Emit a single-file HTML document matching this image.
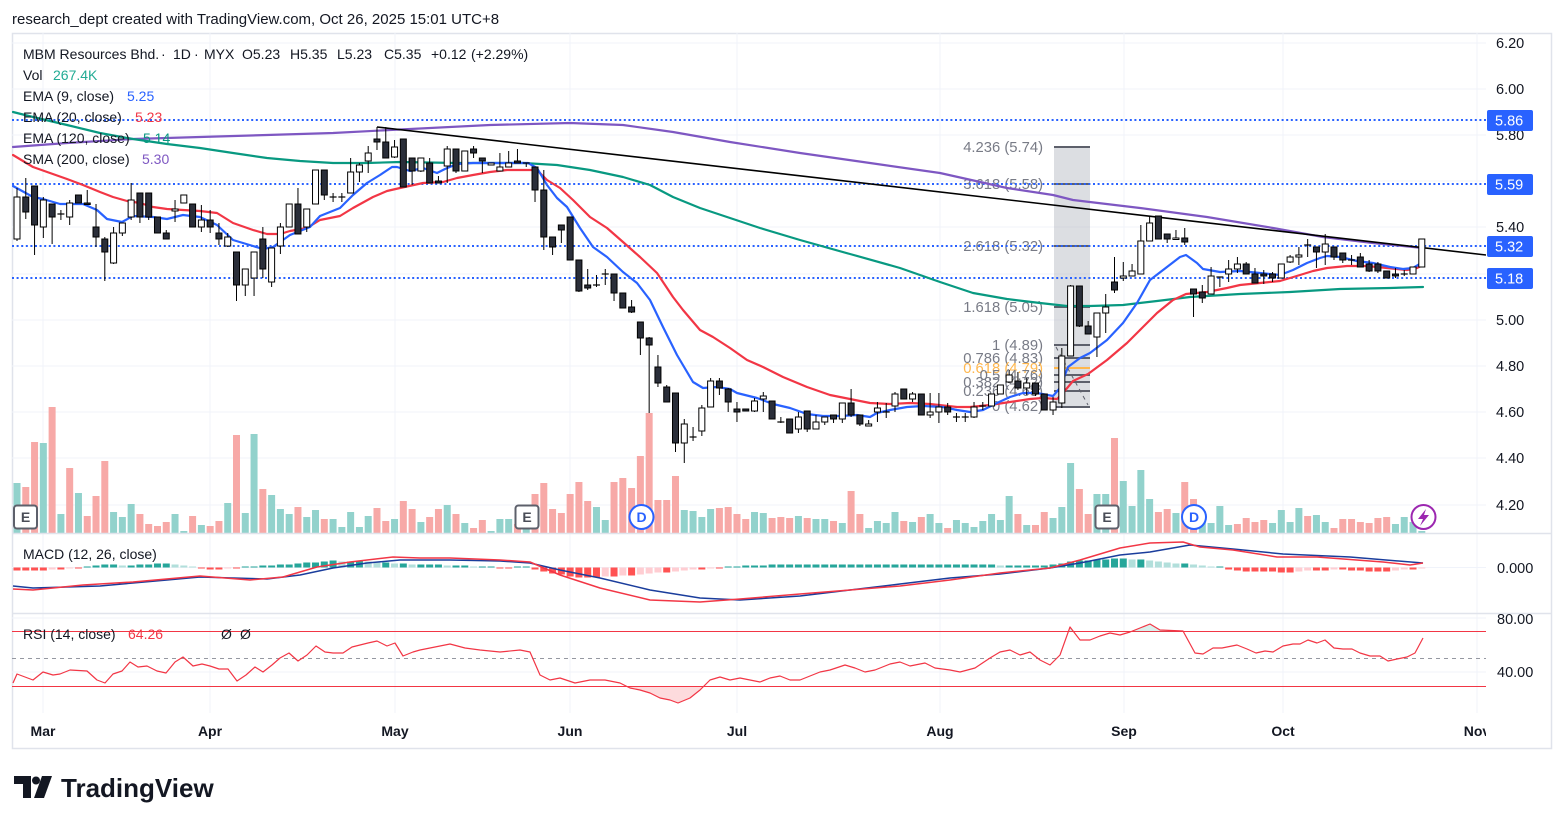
<!DOCTYPE html>
<html><head><meta charset="utf-8"><title>MBM Resources Bhd. chart</title><style>
html,body{margin:0;padding:0;background:#fff;width:1564px;height:824px;overflow:hidden}
svg{display:block;font-family:"Liberation Sans",Arial,sans-serif}
</style></head><body>
<svg id="s" width="1564" height="824" viewBox="0 0 1564 824" xmlns="http://www.w3.org/2000/svg">
<defs>
<clipPath id="cm"><rect x="12" y="33" width="1474" height="500"/></clipPath>
<clipPath id="cx"><rect x="12" y="33" width="1474" height="716"/></clipPath>
<clipPath id="clo"><rect x="12" y="686" width="1474" height="28"/></clipPath>
<clipPath id="chi"><rect x="12" y="614" width="1474" height="17.5"/></clipPath>
</defs>
<rect x="0" y="0" width="1564" height="824" fill="#fff"/>
<text x="12" y="24" font-size="15" fill="#131722">research_dept created with TradingView.com, Oct 26, 2025 15:01 UTC+8</text>
<rect x="12.5" y="33.5" width="1539" height="715" fill="#fff" stroke="#e0e3eb" stroke-width="1.5"/>

<g id="grid" stroke="#f0f3fa" stroke-width="1"></g>
<g id="vol" clip-path="url(#cm)"></g>
<g id="fibbox" clip-path="url(#cm)">
  <rect x="1054" y="147" width="36" height="260" fill="#b2b5be" fill-opacity="0.45"/>
  <g stroke="#5d606b" stroke-width="2">
    <line x1="1054" x2="1090" y1="147" y2="147"/>
    <line x1="1054" x2="1090" y1="184" y2="184"/>
    <line x1="1054" x2="1090" y1="246" y2="246"/>
    <line x1="1054" x2="1090" y1="307" y2="307"/>
    <line x1="1054" x2="1090" y1="345" y2="345"/>
    <line x1="1054" x2="1090" y1="358" y2="358"/>
    <line x1="1054" x2="1090" y1="375" y2="375"/>
    <line x1="1054" x2="1090" y1="382" y2="382"/>
    <line x1="1054" x2="1090" y1="391" y2="391"/>
    <line x1="1054" x2="1090" y1="407" y2="407"/>
  </g>
  <line x1="1054" x2="1090" y1="368" y2="368" stroke="#ffb74d" stroke-width="2"/>
  <line x1="1056" y1="347" x2="1088" y2="405" stroke="#5d606b" stroke-width="1" stroke-dasharray="4,4"/>
</g>
<g id="fiblbl" font-size="14.8" fill="#787b86" text-anchor="end">
  <text x="1043" y="152">4.236 (5.74)</text>
  <text x="1043" y="189">3.618 (5.58)</text>
  <text x="1043" y="251">2.618 (5.32)</text>
  <text x="1043" y="312">1.618 (5.05)</text>
  <text x="1043" y="350">1 (4.89)</text>
  <text x="1043" y="363">0.786 (4.83)</text>
  <text x="1043" y="373" fill="#ffb74d">0.618 (4.79)</text>
  <text x="1043" y="380">0.5 (4.76)</text>
  <text x="1043" y="387">0.382 (4.72)</text>
  <text x="1043" y="396">0.236 (4.68)</text>
  <text x="1043" y="411">0 (4.62)</text>
</g>
<g id="lines" clip-path="url(#cm)"></g>
<g id="candles" clip-path="url(#cm)"></g>
<g id="badges"></g>

<!-- legend -->
<g font-size="14" fill="#131722">
  <text x="23" y="59">MBM Resources Bhd.</text>
  <text x="161" y="59">·</text>
  <text x="173" y="59">1D</text>
  <text x="194" y="59">·</text>
  <text x="204" y="59">MYX</text>
  <text x="242" y="59">O5.23</text>
  <text x="290" y="59">H5.35</text>
  <text x="337" y="59">L5.23</text>
  <text x="384" y="59">C5.35</text>
  <text x="431" y="59">+0.12</text>
  <text x="471" y="59">(+2.29%)</text>
  <text x="23" y="80">Vol</text>
  <text x="53" y="80" fill="#22ab94">267.4K</text>
  <text x="23" y="101">EMA (9, close)</text>
  <text x="127" y="101" fill="#2962ff">5.25</text>
  <text x="23" y="122">EMA (20, close)</text>
  <text x="135" y="122" fill="#f23645">5.23</text>
  <text x="23" y="143">EMA (120, close)</text>
  <text x="143" y="143" fill="#089981">5.14</text>
  <text x="23" y="164">SMA (200, close)</text>
  <text x="142" y="164" fill="#7e57c2">5.30</text>
</g>

<!-- price axis -->
<g font-size="14.5" fill="#131722">
  <text x="1496" y="48">6.20</text>
  <text x="1496" y="94">6.00</text>
  <text x="1496" y="140">5.80</text>
  <text x="1496" y="232">5.40</text>
  <text x="1496" y="325">5.00</text>
  <text x="1496" y="371">4.80</text>
  <text x="1496" y="417">4.60</text>
  <text x="1496" y="463">4.40</text>
  <text x="1496" y="510">4.20</text>
</g>
<g font-size="14.5" fill="#fff">
  <rect x="1487" y="110" width="46" height="21" rx="2" fill="#2962ff"/>
  <text x="1495" y="125.5">5.86</text>
  <rect x="1487" y="174" width="46" height="21" rx="2" fill="#2962ff"/>
  <text x="1495" y="189.5">5.59</text>
  <rect x="1487" y="236" width="46" height="21" rx="2" fill="#2962ff"/>
  <text x="1495" y="251.5">5.32</text>
  <rect x="1487" y="268" width="46" height="21" rx="2" fill="#2962ff"/>
  <text x="1495" y="283.5">5.18</text>
</g>

<!-- separators -->
<line x1="12" x2="1552" y1="533.5" y2="533.5" stroke="#e0e3eb" stroke-width="1.5"/>
<line x1="12" x2="1552" y1="613.5" y2="613.5" stroke="#e0e3eb" stroke-width="1.5"/>

<!-- MACD -->
<g id="macd" clip-path="url(#cx)"></g>
<text x="23" y="559" font-size="14" fill="#131722">MACD (12, 26, close)</text>
<text x="1497" y="573" font-size="14.5" fill="#131722">0.000</text>

<!-- RSI -->
<g id="rsi" clip-path="url(#cx)"></g>
<g font-size="14">
  <text x="23" y="639" fill="#131722">RSI (14, close)</text>
  <text x="128" y="639" fill="#f23645">64.26</text>
  <text x="221" y="639" fill="#131722">Ø</text>
  <text x="240" y="639" fill="#131722">Ø</text>
  <text x="1497" y="624" font-size="14.5" fill="#131722">80.00</text>
  <text x="1497" y="677" font-size="14.5" fill="#131722">40.00</text>
</g>

<!-- time axis -->
<g font-size="14" font-weight="bold" fill="#131722" text-anchor="middle" clip-path="url(#cx)">
  <text x="43" y="736">Mar</text>
  <text x="210" y="736">Apr</text>
  <text x="395" y="736">May</text>
  <text x="570" y="736">Jun</text>
  <text x="737" y="736">Jul</text>
  <text x="940" y="736">Aug</text>
  <text x="1124" y="736">Sep</text>
  <text x="1283" y="736">Oct</text>
  <text x="1477" y="736">Nov</text>
</g>

<!-- logo -->
<g fill="#131722">
  <path d="M14 776 H31 V798 H23 V784 H14 Z"/>
  <circle cx="36" cy="780.5" r="4"/>
  <path d="M42 776 H52 L44 798 H34 Z"/>
  <text x="61" y="797" font-size="26" font-weight="bold">TradingView</text>
</g>

<script>
(function(){
const NS='http://www.w3.org/2000/svg';
function el(t,a,p){const e=document.createElementNS(NS,t);for(const k in a)e.setAttribute(k,a[k]);p.appendChild(e);return e;}
const X=i=>17+i*8.78;
const $=id=>document.getElementById(id);

// grid
const g=$('grid');
[43,89,135,181,227,274,320,366,412,458,505].forEach(y=>el('line',{x1:12,x2:1486,y1:y,y2:y},g));
[567.5,618,672].forEach(y=>el('line',{x1:12,x2:1486,y1:y,y2:y},g));
[43,210,395,570,737,940,1124,1283,1477].forEach(x=>el('line',{x1:x,x2:x,y1:33,y2:713},g));

// volume
const V=[[483,'t'],[487,'r'],[442,'r'],[443,'t'],[407,'r'],[514,'t'],[468,'r'],[493,'t'],[516,'r'],[496,'r'],
[461,'r'],[512,'t'],[517,'t'],[504,'t'],[514,'r'],[524,'r'],[526,'r'],[522,'r'],[514,'t'],[531,'t'],
[516,'r'],[525,'t'],[526,'r'],[521,'r'],[503,'t'],[435,'r'],[513,'t'],[434,'t'],[489,'r'],[495,'t'],
[509,'t'],[514,'t'],[507,'r'],[517,'t'],[510,'t'],[519,'r'],[519,'t'],[527,'t'],[512,'t'],[527,'t'],
[516,'t'],[508,'r'],[521,'r'],[519,'t'],[501,'r'],[509,'r'],[522,'t'],[517,'r'],[509,'r'],[505,'t'],
[514,'r'],[523,'t'],[528,'r'],[520,'r'],[531,'t'],[519,'t'],[519,'t'],[524,'r'],[527,'t'],[494,'r'],
[483,'r'],[509,'r'],[513,'r'],[494,'r'],[482,'r'],[501,'r'],[507,'t'],[520,'t'],[482,'r'],[478,'r'],
[488,'r'],[456,'r'],[413,'r'],[500,'r'],[500,'r'],[476,'r'],[510,'t'],[511,'t'],[517,'t'],[509,'t'],
[508,'r'],[507,'r'],[514,'r'],[519,'r'],[512,'t'],[513,'t'],[518,'r'],[517,'r'],[518,'r'],[516,'t'],
[518,'r'],[519,'t'],[519,'t'],[521,'r'],[523,'t'],[491,'r'],[514,'r'],[528,'t'],[521,'t'],[523,'t'],
[512,'t'],[521,'r'],[522,'t'],[517,'r'],[514,'t'],[523,'t'],[528,'r'],[520,'t'],[523,'t'],[527,'t'],
[521,'t'],[514,'t'],[520,'t'],[496,'t'],[514,'r'],[525,'t'],[525,'r'],[512,'r'],[518,'t'],[507,'t'],
[463,'t'],[489,'r'],[514,'r'],[494,'t'],[494,'t'],[438,'r'],[481,'t'],[506,'t'],[470,'t'],[499,'t'],
[512,'r'],[509,'r'],[513,'t'],[482,'r'],[499,'r'],[511,'t'],[523,'t'],[506,'t'],[525,'t'],[524,'r'],
[518,'r'],[522,'r'],[520,'r'],[523,'t'],[510,'t'],[522,'t'],[508,'t'],[516,'r'],[515,'t'],[522,'t'],
[528,'r'],[519,'r'],[519,'r'],[522,'r'],[523,'r'],[518,'r'],[517,'r'],[524,'t'],[517,'t'],[522,'t'],[531,'t']];
const vg=$('vol');
V.forEach((v,i)=>el('rect',{x:X(i)-3.5,y:v[0],width:7,height:533-v[0],fill:v[1]==='t'?'#92d2cc':'#f7a9a7'},vg));

// lines
const lg=$('lines');
[120,184,246,278].forEach(y=>el('line',{x1:12,x2:1486,y1:y,y2:y,stroke:'#2962ff','stroke-width':2,'stroke-dasharray':'2,2.6'},lg));
function pl(pts,c,w){el('polyline',{points:pts,fill:'none',stroke:c,'stroke-width':w,'stroke-linejoin':'round','stroke-linecap':'round'},lg);}
pl('13,147 67,143 133,139 200,137 267,135 333,133 390,130 490,125 570,123 623,125 673,132 730,142 800,153 870,163 940,173 1007,188 1053,195 1073,200 1140,208 1207,217 1273,228 1323,237 1373,243 1423,248','#7e57c2',2.2);
pl('13,112 33,117 67,125 100,133 133,139 167,144 200,148 233,153 267,158 300,161 333,163 367,163 400,162 457,163 523,163 557,165 590,170 623,177 650,185 673,197 700,208 730,218 760,228 800,240 850,254 900,268 940,282 973,293 1007,299 1040,303 1067,306 1090,306 1123,305 1157,301 1190,297 1240,294 1290,292 1340,289 1390,288 1423,287','#089981',2.2);
pl('13,155 33,167 50,173 67,179 83,185 100,192 113,197 127,201 140,203 153,207 167,209 183,210 200,211 217,213 233,223 253,230 267,234 280,234 290,231 307,228 320,220 340,216 353,208 373,197 387,191 400,188 423,183 443,182 457,178 473,175 490,172 507,170 537,170 547,180 560,188 573,200 590,217 607,228 623,242 640,257 657,273 673,297 683,310 700,330 713,337 730,348 747,360 763,367 783,377 807,387 830,395 850,399 870,403 890,404 910,403 930,404 957,407 970,407 990,405 1010,402 1030,399 1043,398 1057,399 1063,393 1073,381 1088,374 1107,360 1127,343 1140,330 1157,313 1173,300 1186,294 1207,292 1227,288 1240,285 1260,283 1280,281 1300,275 1313,271 1327,268 1347,266 1367,266 1387,268 1407,270 1417,268 1423,265','#f23645',2.2);
pl('13,186 33,197 43,199 60,204 83,204 97,210 107,219 122,222 133,216 153,217 167,219 183,215 200,217 217,225 233,240 253,246 263,249 273,247 290,235 310,227 320,216 340,208 353,195 367,183 380,175 392,167 397,167 410,171 423,168 437,173 445,169 457,164 473,163 490,163 517,163 528,163 537,168 547,185 557,198 567,207 580,228 593,247 607,257 623,272 637,283 650,300 663,327 677,355 693,382 703,388 717,387 730,389 737,393 757,398 773,404 790,408 807,414 823,416 840,416 857,415 870,417 877,413 890,410 907,407 923,406 943,407 957,410 970,412 983,410 997,403 1010,397 1023,393 1037,393 1053,396 1060,388 1068,367 1080,358 1090,353 1107,340 1123,323 1137,303 1150,280 1167,267 1180,257 1186,255 1197,263 1203,269 1220,272 1240,271 1260,273 1280,275 1293,270 1307,263 1320,258 1327,256 1340,257 1357,261 1373,263 1390,267 1403,269 1413,268 1423,262','#2962ff',2.2);
el('line',{x1:377,y1:127,x2:1486,y2:255,stroke:'#000','stroke-width':1.6},lg);

// candles
const C=[[197,239,188,241,'u'],[197,212,178,219,'d'],[186,225,186,255,'d'],[200,227,197,238,'u'],[204,217,204,244,'d'],
[214,214,210,220,'c'],[203,217,200,225,'u'],[195,203,195,203,'d'],[203,204,190,204,'d'],[227,237,204,247,'d'],
[239,252,237,281,'d'],[233,263,227,264,'u'],[223,233,223,236,'u'],[200,217,183,220,'u'],[193,217,193,223,'d'],
[193,217,193,220,'d'],[217,233,217,233,'d'],[233,239,230,239,'d'],[209,211,200,222,'u'],[195,203,195,203,'u'],
[204,227,204,227,'d'],[220,227,205,232,'u'],[220,227,210,233,'d'],[233,239,223,245,'d'],[237,246,233,247,'u'],
[252,285,252,301,'d'],[269,285,269,296,'u'],[252,278,252,296,'u'],[239,269,227,278,'d'],[248,282,248,287,'u'],
[227,246,223,254,'u'],[204,227,204,227,'u'],[204,234,188,234,'d'],[209,227,209,232,'u'],[170,204,170,204,'u'],
[170,195,170,200,'d'],[197,197,193,202,'c'],[197,197,193,202,'c'],[172,193,158,193,'u'],[165,172,163,182,'u'],
[153,161,146,173,'u'],[139,142,127,150,'d'],[142,158,127,158,'d'],[147,157,140,158,'u'],[139,187,139,187,'d'],
[158,171,158,185,'d'],[158,171,158,172,'u'],[163,183,158,183,'d'],[181,183,176,183,'d'],[149,166,146,183,'u'],
[149,171,149,173,'d'],[151,171,151,171,'u'],[149,153,146,158,'d'],[158,161,158,173,'d'],[163,165,163,165,'u'],
[167,171,153,171,'u'],[163,167,151,167,'u'],[161,163,149,163,'d'],[163,163,163,167,'c'],[167,190,167,202,'d'],
[190,237,170,250,'d'],[237,247,237,255,'d'],[225,230,225,243,'d'],[217,260,217,260,'d'],[260,291,260,292,'d'],
[285,288,269,290,'d'],[285,285,275,287,'c'],[274,274,269,285,'c'],[274,293,274,301,'d'],[293,308,293,308,'d'],
[307,312,300,313,'d'],[322,338,322,355,'d'],[338,345,337,413,'d'],[367,383,355,387,'d'],[387,402,385,402,'d'],
[393,443,393,452,'d'],[424,443,419,463,'u'],[437,437,427,441,'c'],[408,431,405,436,'u'],[381,407,378,407,'u'],
[381,388,378,395,'d'],[389,402,388,412,'d'],[409,412,402,422,'d'],[409,411,409,411,'d'],[401,411,398,412,'u'],
[396,399,392,412,'u'],[401,419,401,419,'d'],[422,422,417,423,'c'],[419,433,419,433,'d'],[417,429,412,433,'u'],
[411,429,411,432,'d'],[422,429,415,429,'u'],[417,422,417,425,'u'],[415,419,415,423,'d'],[403,419,403,423,'u'],
[403,415,389,417,'d'],[415,424,415,426,'d'],[424,426,420,426,'u'],[408,412,402,422,'u'],[412,412,403,418,'c'],
[394,406,392,412,'u'],[389,399,389,399,'d'],[394,399,392,402,'u'],[394,415,394,415,'d'],[412,415,393,418,'u'],
[407,412,393,423,'u'],[407,412,403,415,'d'],[417,417,413,422,'c'],[417,417,413,422,'c'],[407,417,402,418,'u'],
[406,406,402,410,'c'],[394,406,394,406,'u'],[385,394,385,394,'u'],[375,382,370,383,'u'],[381,388,372,390,'d'],
[383,388,378,395,'u'],[383,394,383,396,'d'],[394,410,394,410,'d'],[402,410,397,415,'u'],[356,403,348,408,'u'],
[286,356,285,356,'u'],[286,326,286,327,'d'],[326,334,321,334,'d'],[313,337,313,357,'u'],[307,313,294,333,'u'],
[282,290,257,293,'d'],[276,278,262,281,'u'],[271,276,264,276,'u'],[241,274,225,274,'u'],[223,241,216,241,'u'],
[216,239,216,239,'d'],[234,239,234,243,'d'],[238,239,230,239,'u'],[238,242,228,245,'d'],[289,294,289,317,'d'],
[292,298,285,303,'d'],[276,294,267,294,'u'],[277,277,277,287,'c'],[269,274,260,282,'u'],[264,269,257,273,'u'],
[264,274,262,274,'d'],[274,283,268,283,'d'],[274,276,270,284,'d'],[274,278,272,282,'d'],[264,278,264,278,'u'],
[257,262,255,263,'u'],[255,257,247,265,'u'],[245,245,239,257,'c'],[247,252,247,268,'d'],[244,252,234,265,'u'],
[247,257,247,260,'d'],[253,260,253,263,'d'],[260,260,255,265,'c'],[257,267,253,267,'d'],[264,271,260,272,'d'],
[264,271,262,273,'d'],[271,278,271,278,'d'],[274,276,268,278,'d'],[274,274,270,276,'c'],[267,274,267,274,'u'],
[239,267,239,267,'u']];
const cg=$('candles');
C.forEach((c,i)=>{const x=X(i);let [bt,bb,wt,wb,t]=c;wt=Math.min(wt,bt);wb=Math.max(wb,bb);
  el('line',{x1:x,x2:x,y1:wt,y2:wb,stroke:'#000','stroke-width':1},cg);
  if(t==='c'){el('line',{x1:x-3.5,x2:x+3.5,y1:bt,y2:bt,stroke:'#000','stroke-width':1.2},cg);}
  else el('rect',{x:x-3,y:bt,width:6,height:Math.max(bb-bt,1.5),fill:t==='u'?'#fff':'#2a2e39',stroke:'#000','stroke-width':1},cg);
});

// badges
const bg=$('badges');
[25.5,527,1107].forEach(cx=>{el('rect',{x:cx-11.5,y:505.5,width:23,height:23,rx:3,fill:'#fff',stroke:'#5d606b','stroke-width':2},bg);
  const t=el('text',{x:cx,y:522,'font-size':14,'font-weight':'bold','text-anchor':'middle',fill:'#4a4d57'},bg);t.textContent='E';});
[641.5,1194].forEach(cx=>{el('circle',{cx:cx,cy:517,r:12,fill:'#fff',stroke:'#2962ff','stroke-width':2},bg);
  const t=el('text',{x:cx,y:522,'font-size':14,'font-weight':'bold','text-anchor':'middle',fill:'#2962ff'},bg);t.textContent='D';});
el('circle',{cx:1423.5,cy:517,r:12,fill:'#fff',stroke:'#9c27b0','stroke-width':2},bg);
el('path',{d:'M1426 509 L1418 519 H1423 L1420 526 L1429 515 H1424 Z',fill:'#9c27b0'},bg);

// MACD
const H=[-3,-3,-3,-3,-2,-2,-1,-1,
1,2,3,3,2,2,3,3,4,4,3,2,1,
-1,-2,-2,-1,-1,1,
1,2,2,3,3,4,5,5,6,7,6,6,7,6,5,5,4,4,3,
3,3,3,2,2,2,1,1,1,-1,-1,1,1,
-2,-4,-6,-7,-9,-10,-10,-10,-9,-9,-8,-8,
-7,-6,-5,-5,-4,-3,-2,-2,-1,-1,
1,1,2,2,2,3,3,3,3,3,3,3,3,3,3,3,3,3,3,3,3,3,3,3,3,3,3,3,3,3,3,2,2,2,2,2,2,3,
4,6,7,7,8,8,9,9,8,8,7,6,
5,4,4,3,2,1,1,
-2,-3,-4,-4,-4,-4,-5,-5,-4,
-3,-3,-3,-2,-2,-3,-3,-4,-4,-4,-3,-2,-2,-1];
const mg=$('macd');const Z=567.5;
H.forEach((h,i)=>{const p=i?H[i-1]:h;let col;
  if(h>0)col=h>=p?'#26a69a':'#b2dfdb';else col=h<=p?'#ff5252':'#ffcdd2';
  el('rect',{x:X(i)-3.5,y:h>0?Z-h:Z,width:7,height:Math.abs(h),fill:col},mg);});
function mpl(pts,c){el('polyline',{points:pts,fill:'none',stroke:c,'stroke-width':1.5,'stroke-linejoin':'round'},mg);}
mpl('13,586 33,588 67,587 100,586 133,583 167,580 200,577 233,578 267,579 300,575 333,568 367,563 400,560 450,560 500,561 530,563 560,570 600,578 650,590 700,598 740,600 800,596 850,590 900,584 950,578 1000,574 1050,568 1080,563 1120,555 1150,552 1190,545 1233,549 1283,554 1350,557 1423,563','#1a3d9c');
mpl('13,589 33,590 83,585 133,582 200,576 250,580 283,577 317,567 350,562 393,557 420,558 450,558 500,560 530,562 560,575 600,588 650,600 700,602 740,599 800,594 850,590 900,586 950,580 1000,573 1050,568 1080,560 1120,548 1150,543 1183,542 1200,547 1233,550 1277,557 1317,557 1383,562 1410,565 1423,563','#f23645');

// RSI
const rg=$('rsi');
el('line',{x1:12,x2:1486,y1:631.5,y2:631.5,stroke:'#f23645','stroke-width':1},rg);
el('line',{x1:12,x2:1486,y1:686.5,y2:686.5,stroke:'#f23645','stroke-width':1},rg);
el('line',{x1:12,x2:1486,y1:658.5,y2:658.5,stroke:'#9598a1','stroke-width':1,'stroke-dasharray':'4,4'},rg);
const R='13,683 17,674 33,680 43,672 53,675 60,674 70,670 87,671 97,680 105,683 113,674 122,671 130,662 138,667 147,666 157,671 166,673 175,662 183,657 193,666 202,664 210,666 219,669 228,669 237,681 246,675 255,667 263,672 272,665 280,658 289,653 298,661 307,655 316,646 325,652 333,653 343,653 352,647 360,645 368,643 377,641 387,646 395,643 403,656 413,652 420,650 430,648 450,644 465,648 480,650 500,652 520,650 530,652 540,675 550,680 560,678 575,683 590,680 605,680 620,683 630,688 640,690 650,693 660,698 670,700 678,703 690,698 700,690 710,680 720,677 730,680 740,678 750,680 760,682 770,678 780,676 790,680 800,680 810,676 820,672 830,670 845,665 855,668 865,672 875,670 890,664 900,662 910,666 925,663 935,668 950,670 960,672 975,668 990,658 1000,652 1010,650 1020,655 1030,652 1040,660 1050,665 1060,655 1070,627 1080,640 1090,640 1100,636 1110,633 1120,635 1130,632 1140,628 1150,624 1160,630 1183,631 1195,653 1203,654 1213,648 1222,648 1237,645 1247,649 1256,653 1265,651 1273,652 1283,646 1293,644 1300,644 1308,640 1317,643 1325,640 1334,648 1343,649 1352,649 1360,653 1370,656 1380,656 1388,661 1397,659 1407,657 1415,653 1423,638';
el('polygon',{points:R+' 1423,686.5 13,686.5',fill:'#f23645','fill-opacity':0.18,'clip-path':'url(#clo)'},rg);
el('polygon',{points:R+' 1423,631.5 13,631.5',fill:'#089981','fill-opacity':0.15,'clip-path':'url(#chi)'},rg);
el('polyline',{points:R,fill:'none',stroke:'#f23645','stroke-width':1.2,'stroke-linejoin':'round'},rg);
})();
</script>
</svg>
</body></html>
